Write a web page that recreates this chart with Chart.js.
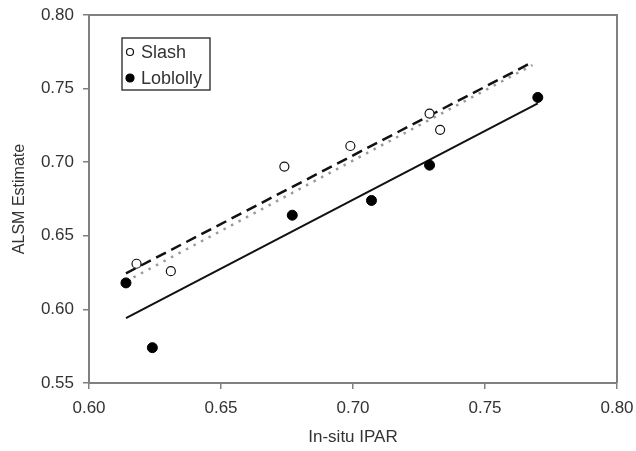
<!DOCTYPE html>
<html>
<head>
<meta charset="utf-8">
<script src="https://cdn.jsdelivr.net/npm/chart.js@4/dist/chart.umd.min.js"></script>
<style>
html,body{margin:0;padding:0;background:#fff;}
#wrap{width:636px;height:451px;}
</style>
</head>
<body>
<div id="wrap"><canvas id="c" width="636" height="451"></canvas></div>
<script>
// ---- data ----
const slashX = [0.618, 0.631, 0.674, 0.699, 0.729, 0.733];
const slashY = [0.631, 0.626, 0.697, 0.711, 0.733, 0.722];
const lobX   = [0.614, 0.624, 0.677, 0.707, 0.729, 0.770];
const lobY   = [0.618, 0.574, 0.664, 0.674, 0.698, 0.744];
// fitted lines (end points)
const slashFitX = [0.614, 0.768];
const slashFitY = [0.6245, 0.768];
const allFitX   = [0.614, 0.768];
const allFitY   = [0.619, 0.766];
const lobFitX   = [0.614, 0.770];
const lobFitY   = [0.594, 0.740];
const xTicks = [0.60, 0.65, 0.70, 0.75, 0.80];
const yTicks = [0.55, 0.60, 0.65, 0.70, 0.75, 0.80];
const xTitle = 'In-situ IPAR';
const yTitle = 'ALSM Estimate';

const pts = (xs, ys) => xs.map((x, i) => ({x: x, y: ys[i]}));
const FONT = "'Liberation Sans', Arial, sans-serif";
const AXIS = '#808080';
const TXT = '#333';

const framePlugin = {
  id: 'frame',
  afterDraw(chart) {
    const {ctx, chartArea: a} = chart;
    ctx.save();
    ctx.strokeStyle = AXIS;
    ctx.lineWidth = 2;
    ctx.beginPath();
    ctx.moveTo(a.left, a.top);
    ctx.lineTo(a.right, a.top);
    ctx.lineTo(a.right, a.bottom);
    ctx.stroke();
    ctx.restore();
  }
};

const legendPlugin = {
  id: 'boxLegend',
  afterDraw(chart) {
    const {ctx, chartArea: a} = chart;
    const items = chart.data.datasets.filter(d => d.inLegend);
    const x0 = a.left + 33, y0 = a.top + 23, w = 88, rowH = 26, h = 52;
    ctx.save();
    ctx.strokeStyle = '#222';
    ctx.lineWidth = 1.3;
    ctx.strokeRect(x0, y0, w, h);
    ctx.font = '18px ' + FONT;
    ctx.textBaseline = 'middle';
    ctx.textAlign = 'left';
    items.forEach((d, i) => {
      const cy = y0 + 14 + i * rowH;
      ctx.beginPath();
      ctx.arc(x0 + 8, cy, d.pointRadius - 1, 0, Math.PI * 2);
      ctx.fillStyle = d.backgroundColor;
      ctx.fill();
      ctx.lineWidth = 1.2;
      ctx.strokeStyle = d.borderColor;
      ctx.stroke();
      ctx.fillStyle = TXT;
      ctx.fillText(d.label, x0 + 19, cy + 1);
    });
    ctx.restore();
  }
};

new Chart(document.getElementById('c'), {
  type: 'scatter',
  data: {
    datasets: [
      { label: 'Slash', inLegend: true, data: pts(slashX, slashY), pointRadius: 4.5,
        backgroundColor: '#fff', borderColor: '#111', borderWidth: 1.2, order: 0 },
      { label: 'Loblolly', inLegend: true, data: pts(lobX, lobY), pointRadius: 5,
        backgroundColor: '#000', borderColor: '#000', borderWidth: 1, order: 0 },
      { label: 'Slash fit', type: 'line', data: pts(slashFitX, slashFitY), showLine: true,
        borderColor: '#111', borderWidth: 2.5, borderDash: [11, 6], pointRadius: 0, fill: false, order: 2 },
      { label: 'All fit', type: 'line', data: pts(allFitX, allFitY), showLine: true,
        borderColor: '#9a9a9a', borderWidth: 2.5, borderDash: [2.5, 6], pointRadius: 0, fill: false, order: 3 },
      { label: 'Loblolly fit', type: 'line', data: pts(lobFitX, lobFitY), showLine: true,
        borderColor: '#111', borderWidth: 2, pointRadius: 0, fill: false, order: 1 }
    ]
  },
  options: {
    responsive: false,
    devicePixelRatio: 1,
    animation: false,
    layout: { padding: { left: 0, right: 19, top: 15, bottom: 0 } },
    plugins: { legend: { display: false }, tooltip: { enabled: false } },
    scales: {
      x: {
        type: 'linear', min: xTicks[0], max: xTicks[xTicks.length - 1],
        afterBuildTicks: s => { s.ticks = xTicks.map(v => ({value: v})); },
        afterFit: s => { s.height = 68; s.paddingLeft = 0; s.paddingRight = 0; },
        ticks: { callback: v => v.toFixed(2), color: TXT, font: { size: 17, family: FONT }, padding: 9, maxRotation: 0 },
        grid: { drawOnChartArea: false, tickLength: 6, color: AXIS, lineWidth: 1.5 },
        border: { display: true, color: AXIS, width: 2 },
        title: { display: true, text: xTitle, color: TXT, font: { size: 17, family: FONT }, padding: { top: 0, bottom: 3 } }
      },
      y: {
        type: 'linear', min: yTicks[0], max: yTicks[yTicks.length - 1],
        afterBuildTicks: s => { s.ticks = yTicks.map(v => ({value: v})); },
        afterFit: s => { s.width = 89; s.paddingTop = 0; s.paddingBottom = 0; },
        ticks: { callback: v => v.toFixed(2), color: TXT, font: { size: 17, family: FONT }, padding: 9 },
        grid: { drawOnChartArea: false, tickLength: 6, color: AXIS, lineWidth: 1.5 },
        border: { display: true, color: AXIS, width: 2 },
        title: { display: true, text: yTitle, color: TXT, font: { size: 16, family: FONT }, padding: { top: 10, bottom: 0 } }
      }
    }
  },
  plugins: [framePlugin, legendPlugin]
});
</script>
</body>
</html>
